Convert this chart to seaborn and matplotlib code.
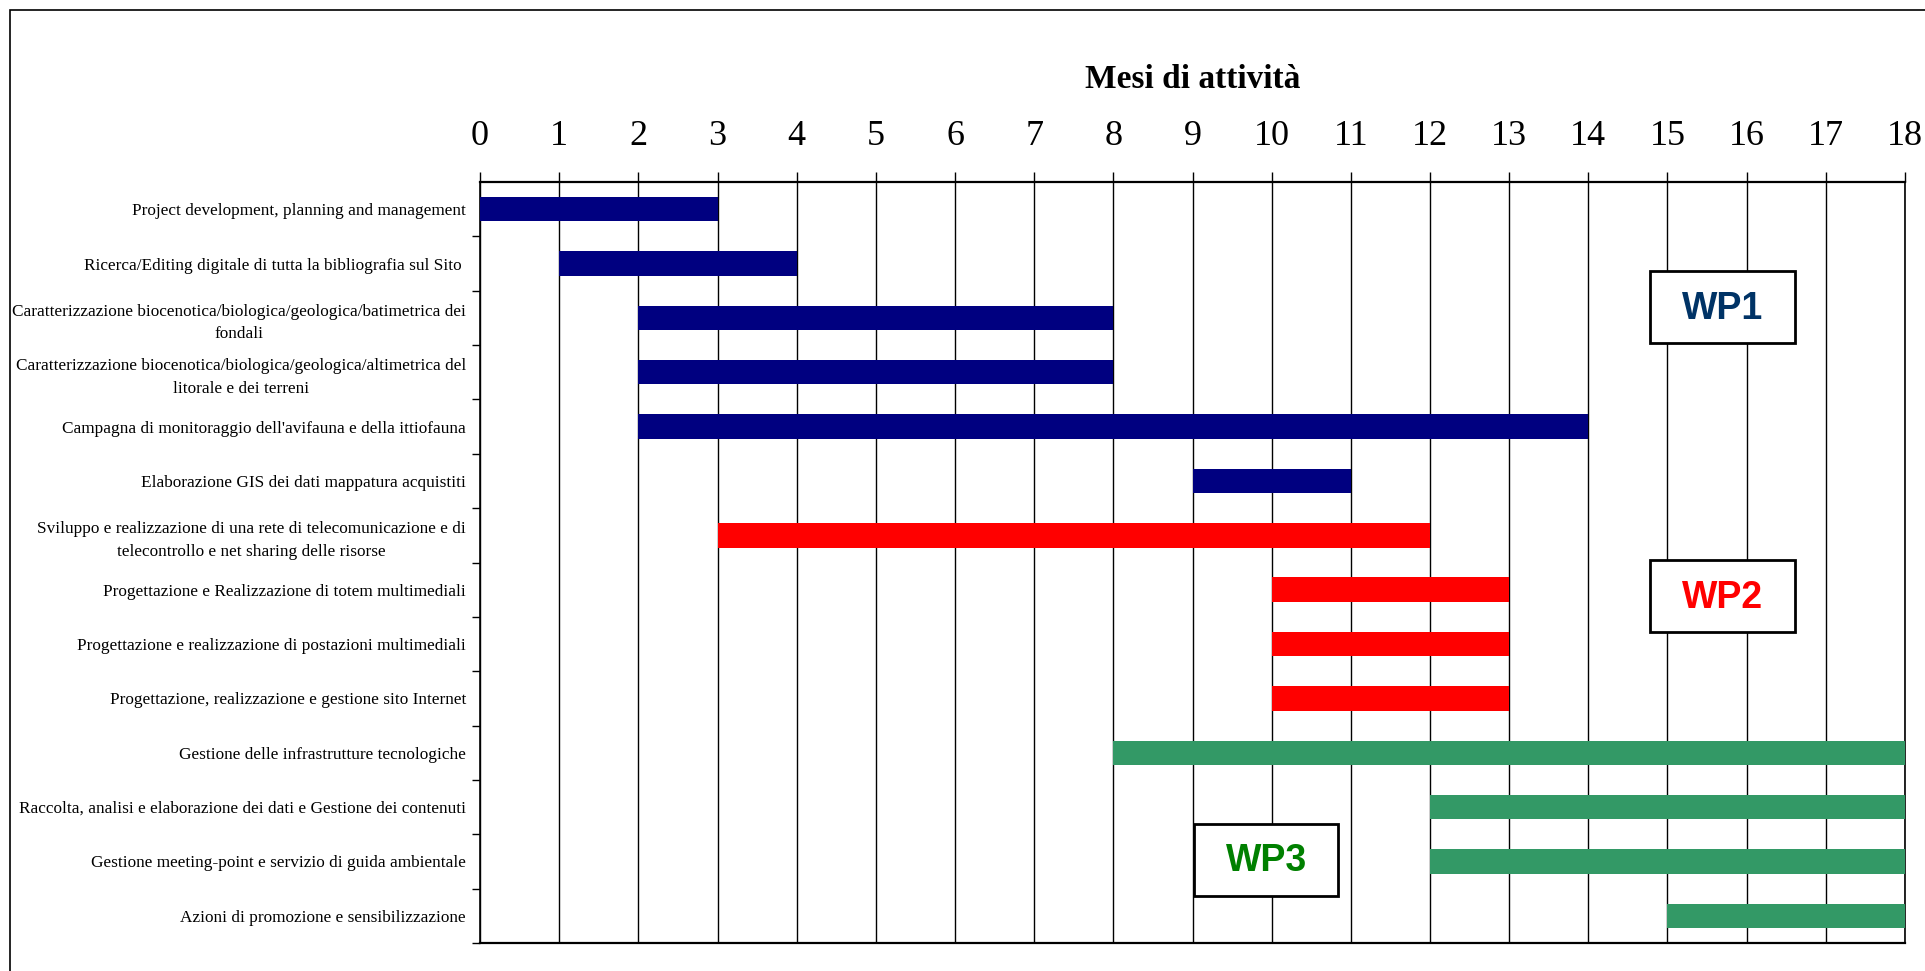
import matplotlib
matplotlib.use("Agg")
import matplotlib.pyplot as plt
import matplotlib.patches as mpatches
import numpy as np
import pandas as pd
import seaborn as sns

tasks = [
    "Project development, planning and management",
    "Ricerca/Editing digitale di tutta la bibliografia sul Sito ",
    "Caratterizzazione biocenotica/biologica/geologica/batimetrica dei\nfondali",
    "Caratterizzazione biocenotica/biologica/geologica/altimetrica del\nlitorale e dei terreni",
    "Campagna di monitoraggio dell'avifauna e della ittiofauna",
    "Elaborazione GIS dei dati mappatura acquistiti",
    "Sviluppo e realizzazione di una rete di telecomunicazione e di\ntelecontrollo e net sharing delle risorse",
    "Progettazione e Realizzazione di totem multimediali",
    "Progettazione e realizzazione di postazioni multimediali",
    "Progettazione, realizzazione e gestione sito Internet",
    "Gestione delle infrastrutture tecnologiche",
    "Raccolta, analisi e elaborazione dei dati e Gestione dei contenuti",
    "Gestione meeting-point e servizio di guida ambientale",
    "Azioni di promozione e sensibilizzazione",
]
start_month = [0, 1, 2, 2, 2, 9, 3, 10, 10, 10, 8, 12, 12, 15]
end_month = [3, 4, 8, 8, 14, 11, 12, 13, 13, 13, 18, 18, 18, 18]
work_package = ["WP1"] * 6 + ["WP2"] * 4 + ["WP3"] * 4
month_ticks = list(range(0, 19))
wp_bar_colors = {"WP1": "#000080", "WP2": "#FF0000", "WP3": "#339966"}
wp_text_colors = {"WP1": "#003366", "WP2": "#FF0000", "WP3": "#008000"}
title_text = "Mesi di attività"

df = pd.DataFrame({
    "task": tasks,
    "start": start_month,
    "end": end_month,
    "wp": work_package,
})
df["duration"] = df["end"] - df["start"]

sns.set_theme(style="white")
plt.rcParams["font.family"] = ["Liberation Serif", "DejaVu Serif"]
plt.rcParams["text.color"] = "black"
plt.rcParams["xtick.color"] = "black"
plt.rcParams["ytick.color"] = "black"
plt.rcParams["axes.labelcolor"] = "black"

W, H, DPI = 1925, 971, 100
fig = plt.figure(figsize=(W / DPI, H / DPI), dpi=DPI)
fig.patch.set_facecolor("white")
ax = fig.add_axes([480 / W, 1 - 943 / H, (1905 - 480) / W, (943 - 182) / H])

palette = {t: wp_bar_colors[w] for t, w in zip(df["task"], df["wp"])}
sns.barplot(data=df, x="duration", y="task", hue="task", palette=palette,
            order=tasks, hue_order=tasks, legend=False, width=0.45,
            saturation=1, ax=ax, zorder=3, linewidth=0)
# shift each bar so that it starts at its start month
for patch, s, d in zip(ax.patches, df["start"], df["duration"]):
    patch.set_x(s)
    patch.set_width(d)

ax.set_xlim(0, 18)
ax.set_ylim(len(tasks) - 0.5, -0.5)
ax.set_xlabel("")
ax.set_ylabel("")

# x axis on top
ax.xaxis.tick_top()
ax.set_xticks(month_ticks)
ax.set_xticklabels([str(m) for m in month_ticks], fontsize=26,
                   family="Liberation Serif", color="black")
ax.tick_params(axis="x", which="major", direction="out", length=7, width=1,
               color="black", pad=14, top=True, bottom=False,
               labelcolor="black")
ax.grid(axis="x", color="black", linewidth=1, zorder=1)
ax.grid(axis="y", visible=False)

# y labels
ax.set_yticks(range(len(tasks)))
ax.set_yticklabels(tasks, fontsize=12.4, family="Liberation Serif",
                   multialignment="center", linespacing=1.55, color="black")
ax.tick_params(axis="y", which="major", length=0, pad=10, left=True,
               labelcolor="black")
ax.set_yticks(np.arange(0.5, len(tasks), 1.0), minor=True)
ax.tick_params(axis="y", which="minor", length=6, width=1, color="black",
               direction="out", left=True)

for side in ["left", "right", "top", "bottom"]:
    ax.spines[side].set_visible(True)
    ax.spines[side].set_color("black")
    ax.spines[side].set_linewidth(1.2)
ax.spines["top"].set_linewidth(1.6)
ax.spines["bottom"].set_linewidth(1.6)

# title centred over the plot area
fig.text((480 + 1905) / 2 / W, 1 - 80 / H, title_text, ha="center",
         va="center", fontsize=24, fontweight="bold",
         family="Liberation Serif", color="black")

# WP boxes (annotations)
wp_boxes = {
    "WP1": (14.78, 1.14, 16.61, 2.46),
    "WP2": (14.78, 6.45, 16.61, 7.78),
    "WP3": (9.02, 11.31, 10.84, 12.63),
}
for wp, (x0, y0, x1, y1) in wp_boxes.items():
    rect = mpatches.Rectangle((x0, y0), x1 - x0, y1 - y0, facecolor="white",
                              edgecolor="black", linewidth=2, zorder=5)
    ax.add_patch(rect)
    ax.text((x0 + x1) / 2, (y0 + y1) / 2 + 0.03, wp, ha="center",
            va="center", fontsize=27, fontweight="bold",
            family="Liberation Sans", color=wp_text_colors[wp], zorder=6)

# outer frame (left and top edges visible)
frame = mpatches.Rectangle((10 / W, -1), 2, 1 + (1 - 10 / H),
                           transform=fig.transFigure, fill=False,
                           edgecolor="black", linewidth=1.2, clip_on=False)
fig.patches.append(frame)

fig.savefig("out.png", dpi=DPI, facecolor="white")
